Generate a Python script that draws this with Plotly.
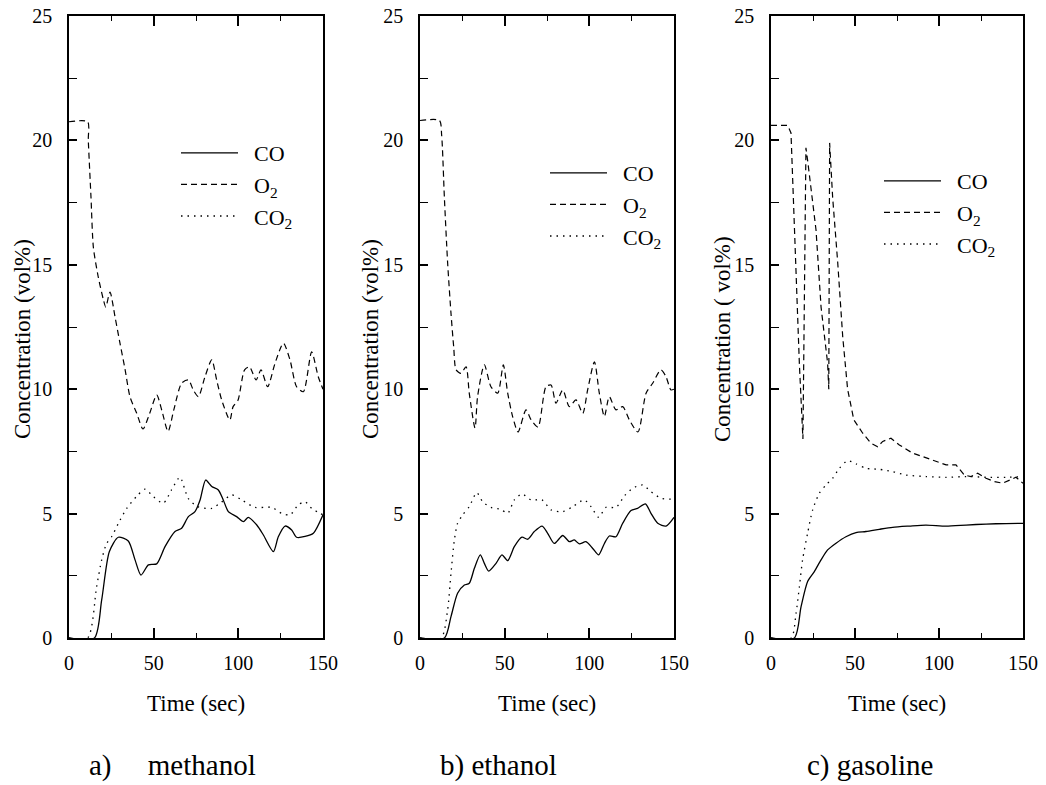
import plotly.graph_objects as go

W, H = 1046, 785
FONT = "Liberation Serif"

# ---------------- data ----------------
# a) methanol
meth_co_t = [0, 15, 19.3, 23.8, 29.1, 35, 39, 42.5, 46.9, 51.8, 56.7, 62.6, 66.5, 70.5, 74.4, 77.4, 80.7,
             84.3, 88.2, 91.1, 94.1, 99, 103, 105.9, 110.9, 114.8, 120.7, 123.6, 127.6, 131.5, 134.4,
             139.4, 144.3, 150]
meth_co = [0, 0, 1.53, 3.47, 4.05, 3.9, 3.14, 2.53, 2.94, 2.98, 3.67, 4.28, 4.41, 4.88, 5.08, 5.55, 6.35,
           6.09, 5.95, 5.55, 5.08, 4.88, 4.68, 4.85, 4.54, 4.14, 3.47, 4.07, 4.5, 4.34, 4.05,
           4.08, 4.21, 4.95]
meth_o2_t = [0, 11, 11.4, 13, 14.4, 17.3, 20.3, 21.7, 24.2, 27.2, 30.1, 33.1, 36, 40, 43.7, 47.5, 51.8,
             55, 58.5, 62, 66.5, 70.5, 73.4, 76.4, 80.3, 84.3, 87.2, 90.2, 95, 96.9, 99.8, 103.7, 106.6,
             110.5, 113.4, 117.3, 121.7, 126.6, 130.5, 134.4, 138.4, 143.3, 147.2, 150]
meth_o2 = [20.75, 20.75, 20.0, 17.7, 15.7, 14.5, 13.6, 13.3, 13.9, 12.9, 11.85, 10.8, 9.7, 9.03, 8.4, 9.0,
           9.77, 9.1, 8.3, 9.2, 10.24, 10.37, 9.97, 9.7, 10.5, 11.18, 10.37, 9.56, 8.76, 9.3, 9.56, 10.78,
           10.9, 10.37, 10.78, 10.1, 11.05, 11.85, 11.18, 10.1, 9.9, 11.5, 10.5, 10.0]
meth_co2_t = [0, 11, 16.3, 19.3, 22.2, 25.2, 29.1, 34, 39.8, 44.9, 49.8, 55.7, 60.6, 65.5, 70.5, 76.4,
              84.3, 90.2, 96.1, 102, 109.8, 119.7, 125.6, 130.6, 135.4, 139.4, 143.3, 148.2, 150]
meth_co2 = [0, 0, 2.06, 3.14, 3.8, 4.07, 4.6, 5.2, 5.68, 5.98, 5.68, 5.42, 5.96, 6.46, 5.6, 5.27,
            5.21, 5.47, 5.75, 5.55, 5.25, 5.25, 5.01, 4.95, 5.35, 5.48, 5.21, 5.01, 4.95]

# b) ethanol
eth_co_t = [0, 14.4, 18.3, 22.2, 26.2, 29.1, 32.1, 35.6, 38, 40.6, 44.9, 48.4, 51.8, 55.7, 60.2, 63.6,
            67.5, 72.1, 75.4, 79.3, 84.3, 88.2, 91.1, 94.1, 98, 102, 105.5, 108.9, 111.8, 115.7, 119.7,
            124.6, 128.5, 133.1, 136.4, 140.4, 145.3, 150]
eth_co = [0, 0, 0.86, 1.8, 2.13, 2.2, 2.8, 3.34, 3.0, 2.69, 3.0, 3.34, 3.11, 3.67, 4.05, 3.97,
          4.28, 4.5, 4.21, 3.8, 4.12, 3.87, 3.94, 3.78, 3.87, 3.6, 3.34, 3.8, 4.1, 4.07, 4.61,
          5.12, 5.21, 5.39, 5.01, 4.61, 4.5, 4.85]
eth_o2_t = [0, 11.5, 12.8, 14.4, 16.3, 18.3, 19.9, 21.3, 24.2, 27.2, 29.1, 32.5, 34, 38, 41.9, 45.9,
            49.2, 51.8, 54.7, 57.9, 62.6, 65.6, 69.7, 74.4, 77.4, 80.3, 84.3, 88.2, 92.1, 96.1, 99, 103,
            105.9, 108.9, 111.8, 115.7, 119.7, 123.6, 128.7, 133.5, 137.4, 142.3, 145.3, 148.2, 150]
eth_o2 = [20.8, 20.8, 20.2, 17.7, 15.1, 13.05, 11.7, 10.78, 10.64, 10.9, 9.83, 8.44, 9.7, 10.98, 10.1,
          9.84, 10.98, 9.84, 8.9, 8.28, 9.17, 8.77, 8.48, 10.1, 10.17, 9.44, 9.97, 9.3, 9.57, 9.03, 9.97,
          11.1, 9.84, 8.9, 9.7, 9.17, 9.3, 8.77, 8.28, 9.84, 10.24, 10.78, 10.5, 9.97, 10.0]
eth_co2_t = [0, 12.5, 16.3, 18.3, 20.3, 22.2, 25.2, 29.1, 33.5, 37, 41.9, 47.8, 51.8, 55.7, 60.2, 65.6,
             72, 77.4, 84.3, 90.2, 97, 101, 105.5, 109.8, 115.7, 120.7, 125.6, 131.5, 136.4, 142.3,
             148.2, 150]
eth_co2 = [0, 0, 1.13, 2.6, 3.94, 4.61, 4.95, 5.28, 5.84, 5.48, 5.25, 5.17, 5.01, 5.55, 5.79, 5.55,
           5.55, 5.15, 5.08, 5.28, 5.55, 5.28, 4.85, 5.25, 5.25, 5.71, 6.02, 6.15, 5.88, 5.62,
           5.58, 5.6]

# c) gasoline
gas_co_t = [0, 13.9, 17.9, 21.8, 25.8, 29.8, 33.7, 38.7, 44.6, 50.6, 56.5, 64.5, 72.4, 82.3, 92.2,
            104.2, 116.1, 128, 139.9, 150]
gas_co = [0, 0, 1.26, 2.27, 2.67, 3.14, 3.54, 3.81, 4.07, 4.24, 4.28, 4.37, 4.45, 4.5, 4.54,
          4.5, 4.54, 4.58, 4.6, 4.61]
gas_o2_t = [0, 9, 10, 11.9, 16.9, 19, 20.8, 21.8, 26.8, 29.8, 33.7, 34.4, 34.9, 36.7, 39.7, 42.7, 45.6,
            49.3, 54.6, 59.5, 63.5, 66.5, 71.4, 76.4, 84.3, 90.3, 98.2, 104.2, 110.1, 115.1, 119, 123,
            128, 132.9, 137.9, 141.9, 145.8, 150]
gas_o2 = [20.6, 20.6, 20.6, 20.3, 11.0, 8.0, 19.7, 19.2, 16.4, 13.3, 11.05, 10.0, 19.9, 17.7, 15.1,
          12.1, 10.0, 8.77, 8.23, 7.83, 7.69, 7.9, 8.03, 7.76, 7.43, 7.29, 7.09, 6.96, 6.96, 6.55, 6.49,
          6.62, 6.42, 6.29, 6.22, 6.35, 6.46, 6.22]
gas_co2_t = [0, 12, 14.9, 16.9, 18.8, 21.8, 24.8, 28.8, 32.7, 36.7, 40.7, 45.6, 50.6, 56.5, 64.5, 72.4,
             80.4, 92.3, 104.2, 116.1, 128, 139.9, 150]
gas_co2 = [0, 0, 0.99, 2.06, 3.14, 4.21, 5.15, 5.82, 6.15, 6.42, 6.82, 7.13, 7.0, 6.82, 6.78, 6.69,
           6.55, 6.49, 6.46, 6.49, 6.46, 6.46, 6.49]

x_ticks = [0, 50, 100, 150]
y_ticks = [0, 5, 10, 15, 20, 25]
series_names = ["CO", "O<sub>2</sub>", "CO<sub>2</sub>"]
panel_captions = ["a)\u00a0\u00a0\u00a0\u00a0\u00a0methanol", "b) ethanol", "c) gasoline"]
y_titles = ["Concentration (vol%)", "Concentration (vol%)", "Concentration ( vol%)"]
x_title = "Time (sec)"

# ---------------- layout helpers (reference pixel -> paper fraction) ----------------
def fx(px):
    return px / W

def fy(py):
    return 1 - py / H

panels_px = [(69, 323), (420, 674), (771, 1023)]
plot_top, plot_bot = 16, 638

panels = [
    (meth_co_t, meth_co, meth_o2_t, meth_o2, meth_co2_t, meth_co2, "spline"),
    (eth_co_t, eth_co, eth_o2_t, eth_o2, eth_co2_t, eth_co2, "spline"),
    (gas_co_t, gas_co, gas_o2_t, gas_o2, gas_co2_t, gas_co2, "linear"),
]
styles = [
    dict(color="black", width=1.3, dash="solid"),
    dict(color="black", width=1.2, dash="6px,4px"),
    dict(color="black", width=1.3, dash="1.5px,5px"),
]
legend_ids = ["legend", "legend2", "legend3"]
legend_pos = [(176, 132), (545, 152), (879, 160)]
ytitle_x = [22, 370, 722]
caption_x = [87, 438, 805]
pad = "\u00a0\u00a0"

fig = go.Figure()
layout = dict(
    width=W, height=H,
    margin=dict(l=0, r=0, t=0, b=0, autoexpand=False),
    paper_bgcolor="white", plot_bgcolor="white",
    font=dict(family=FONT, color="black", size=20),
    annotations=[],
)

for i, (cot, co, o2t, o2, co2t, co2, o2shape) in enumerate(panels):
    xa = "x" if i == 0 else f"x{i+1}"
    ya = "y" if i == 0 else f"y{i+1}"
    xkey = "xaxis" if i == 0 else f"xaxis{i+1}"
    ykey = "yaxis" if i == 0 else f"yaxis{i+1}"
    data = [(cot, co, "spline"), (o2t, o2, o2shape), (co2t, co2, "spline")]
    for j, (tt, vv, shp) in enumerate(data):
        fig.add_trace(go.Scatter(
            x=tt, y=vv, mode="lines", name=pad + series_names[j],
            line=dict(shape=shp, smoothing=0.7 if shp == "spline" else None, **styles[j]),
            xaxis=xa, yaxis=ya, legend=legend_ids[i], showlegend=True,
            hoverinfo="skip",
        ))
    l, r = panels_px[i]
    layout[xkey] = dict(
        domain=[fx(l), fx(r)], range=[0, 150], anchor=ya, automargin=False,
        showline=True, linecolor="black", linewidth=1.6, mirror="ticks",
        ticks="inside", ticklen=10, tickwidth=1.5, tickcolor="black",
        tickvals=x_ticks, showgrid=False, zeroline=False,
        minor=dict(tickvals=[25, 75, 125], ticks="inside", ticklen=5, tickwidth=1.2, tickcolor="black"),
        tickfont=dict(family=FONT, size=20, color="black"), ticklabelstandoff=6,
    )
    layout[ykey] = dict(
        domain=[fy(plot_bot), fy(plot_top)], range=[0, 25], anchor=xa, automargin=False,
        showline=True, linecolor="black", linewidth=1.6, mirror=True,
        ticks="inside", ticklen=8, tickwidth=1.5, tickcolor="black",
        tickvals=y_ticks, showgrid=False, zeroline=False,
        minor=dict(tickvals=[2.5, 7.5, 12.5, 17.5, 22.5], ticks="inside", ticklen=8, tickwidth=1.2,
                   tickcolor="black"),
        tickfont=dict(family=FONT, size=20, color="black"), ticklabelstandoff=11,
    )
    lx, ly = legend_pos[i]
    layout[legend_ids[i]] = dict(
        x=fx(lx), y=fy(ly), xanchor="left", yanchor="top", xref="paper", yref="paper",
        bgcolor="rgba(0,0,0,0)", borderwidth=0, font=dict(family=FONT, size=22, color="black"),
        itemwidth=57, tracegroupgap=0,
    )
    layout["annotations"].append(dict(
        text=y_titles[i], textangle=-90, x=fx(ytitle_x[i]), y=fy(339), xref="paper", yref="paper",
        showarrow=False, xanchor="center", yanchor="middle", font=dict(family=FONT, size=23, color="black"),
    ))
    layout["annotations"].append(dict(
        text=x_title, x=fx((l + r) / 2), y=fy(703), xref="paper", yref="paper",
        showarrow=False, xanchor="center", yanchor="middle", font=dict(family=FONT, size=23, color="black"),
    ))
    layout["annotations"].append(dict(
        text=panel_captions[i], x=fx(caption_x[i]), y=fy(765), xref="paper", yref="paper",
        showarrow=False, xanchor="left", yanchor="middle", font=dict(family=FONT, size=29, color="black"),
    ))

fig.update_layout(**layout)
# remove the default 8px page margin so the figure fills the window exactly
fig.write_html(
    "out.html",
    config={"displayModeBar": False},
    post_script="document.body.style.margin='0';document.body.style.overflow='hidden';",
)
